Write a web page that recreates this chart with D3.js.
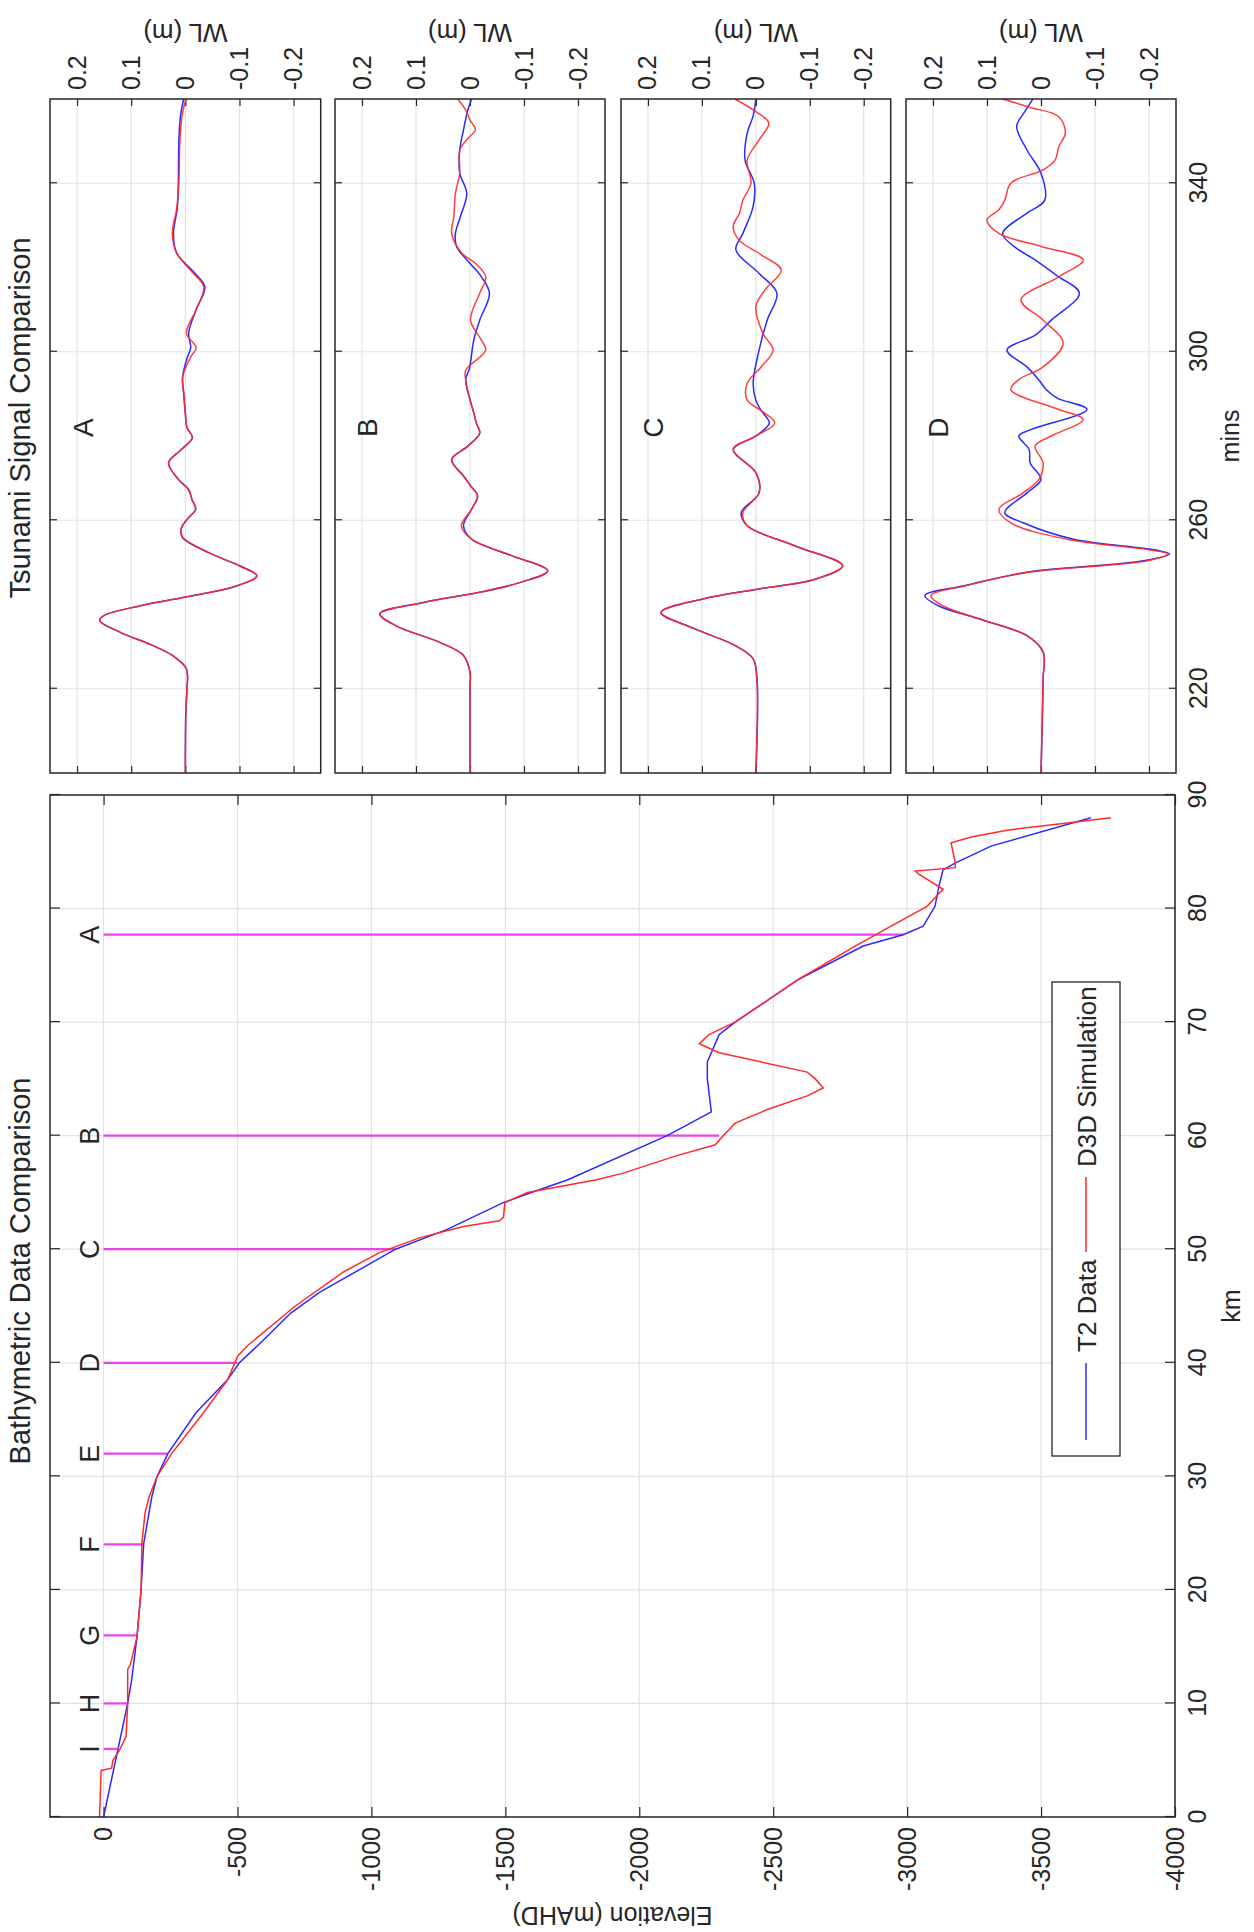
<!DOCTYPE html>
<html><head><meta charset="utf-8">
<script src="https://cdn.jsdelivr.net/npm/d3@7"></script>
<style>body{margin:0;background:#fff}</style>
</head><body>
<script>
// ---------------- DATA ----------------
const KM_TICKS = [0,10,20,30,40,50,60,70,80,90];
const ELEV_TICKS = [0,-500,-1000,-1500,-2000,-2500,-3000,-3500,-4000];
const MIN_TICKS = [220,260,300,340];
const WL_TICKS = [0.2,0.1,0,-0.1,-0.2];

const T2_KM   = [0,5,10,12.1,15.9,20,24.1,28.2,30,32,35.6,38.5,40,42,44.4,46.2,50,51.75,54.1,55,56.1,60,62.1,65,66.5,68.9,70,73.8,76.7,77.7,78.45,80.2,82,83.4,84,85.5,88];
const T2_ELEV = [0,-45,-90,-105,-125,-140,-150,-180,-200,-240,-345,-463,-507,-597,-700,-806,-1090,-1283,-1492,-1597,-1731,-2104,-2269,-2254,-2254,-2298,-2358,-2597,-2836,-2985,-3060,-3104,-3119,-3134,-3179,-3313,-3686];

const D3D_KM   = [0,4.1,4.3,5,5.9,7.1,10,13,13.4,15.9,20,24.1,26.8,28.2,30,32,35.6,38.5,40.6,41.5,45,48,49.7,51,52,52.5,52.8,54.1,55,56.1,56.7,58.2,59.2,60,61.1,62.3,63.5,64.2,65,65.6,67.3,68.1,68.9,70,73.8,76.7,78.45,80.2,81.7,83,83.3,83.6,84,85.8,86.3,86.9,87.5,88];
const D3D_ELEV = [15,9,-30,-35,-60,-84,-90,-90,-100,-125,-140,-143,-155,-170,-200,-254,-373,-463,-501,-537,-716,-896,-1030,-1179,-1343,-1478,-1493,-1498,-1582,-1836,-1940,-2134,-2284,-2313,-2358,-2478,-2627,-2687,-2657,-2627,-2298,-2224,-2260,-2358,-2597,-2806,-2940,-3074,-3134,-3045,-3030,-3179,-3180,-3164,-3239,-3373,-3582,-3761];

const SITE_LABELS = ['I','H','G','F','E','D','C','B','A'];
const SITE_KM     = [6,10,16,24,32,40,50,60,77.7];
const SITE_DEPTH  = [-50,-90,-128,-150,-240,-500,-1090,-2298,-2985];

const PANEL_NAMES = ['A','B','C','D'];

const A_T2_T   = [200,215,220,224.7,227.9,230.3,233.4,236.2,237.4,239.7,242.1,244.1,246.8,249.2,252.3,255.9,257.9,260.5,262.6,265,267.3,269.7,273.6,276.5,279.6,282,285.5,290,294,298.8,301,304.4,310,315.4,319,323.4,328,334,340,350,356,360];
const A_T2_WL  = [0,-0.001,-0.003,-0.002,0.024,0.061,0.12,0.158,0.15,0.083,-0.013,-0.087,-0.132,-0.10,-0.043,0.005,0.008,-0.005,-0.019,-0.012,-0.006,0.013,0.031,0.01,-0.013,-0.003,0,0.003,0.005,-0.004,-0.01,-0.006,-0.02,-0.036,-0.015,0.016,0.022,0.015,0.013,0.012,0.009,0.003];
const A_D3D_T  = [200,215,220,224.7,227.9,230.3,233.4,236.2,237.4,239.7,242.1,244.1,246.8,249.2,252.3,255.9,257.9,260.5,262.6,265,267.3,269.7,273.6,276.5,279.6,282,285.5,290,294,298.8,301,304.4,310,315.4,319,323.4,328,334,340,350,356,360];
const A_D3D_WL = [0,-0.001,-0.003,-0.002,0.024,0.061,0.12,0.158,0.15,0.083,-0.013,-0.087,-0.132,-0.10,-0.043,0.005,0.008,-0.005,-0.019,-0.012,-0.006,0.013,0.031,0.01,-0.013,-0.003,0,0.003,0.005,-0.01,-0.02,-0.002,-0.02,-0.034,-0.012,0.016,0.024,0.016,0.012,0.01,0.006,-0.001];

const B_T2_T   = [200,220,223.9,227.9,231,235,237.8,240.5,242.9,245.2,248,251.6,255.5,258.7,262.6,265.8,268,270.5,274.4,277.6,280.7,283,285.5,288.6,293.4,296,302.8,307.5,313.9,318,321,325,328.1,332,337.6,342.4,347.9,352.7,357.4,360];
const B_T2_WL  = [0,0,0,0.012,0.056,0.138,0.167,0.086,-0.018,-0.092,-0.144,-0.077,-0.003,0.012,-0.003,-0.014,-0.002,0.012,0.034,0.004,-0.018,-0.012,-0.007,0,0.008,0.001,-0.007,-0.018,-0.036,-0.02,0,0.025,0.027,0.018,0.006,0.019,0.019,0.012,0.004,-0.003];
const B_D3D_T  = [200,220,223.9,227.9,231,235,237.8,240.5,242.9,245.2,248,251.6,255.5,258.7,262.6,265.8,268,270.5,274.4,277.6,280.7,283,285.5,288.6,293.4,295.6,300.4,303,307.5,313.9,317.8,321,323.4,328.1,332,337.6,342.4,347.9,350.5,352.7,355,357.4,360];
const B_D3D_WL = [0,0,0,0.012,0.056,0.138,0.167,0.086,-0.018,-0.092,-0.144,-0.077,-0.003,0.016,-0.003,-0.014,-0.002,0.012,0.034,0.004,-0.018,-0.012,-0.007,0,0.008,0.008,-0.029,-0.02,-0.001,-0.018,-0.029,-0.01,0.015,0.034,0.03,0.027,0.019,0.019,0.005,-0.01,0,0.008,0.023];

const C_T2_T   = [200,222.4,227.1,230.3,234.2,238.1,241.3,243.7,246,249.2,253.9,258.7,261.8,266.5,271.3,276.8,280,283.1,286,288.5,292.5,300.4,307.5,313.9,318.6,324.2,328.1,334.5,340,345.5,351.9,356,360];
const C_T2_WL  = [0,-0.002,0.005,0.039,0.113,0.176,0.098,-0.006,-0.11,-0.161,-0.073,0.016,0.027,-0.006,0,0.042,0,-0.025,-0.01,0,0.005,-0.006,-0.021,-0.039,-0.006,0.037,0.024,0.005,0.003,0.02,0.016,0.005,0];
const C_D3D_T  = [200,222.4,227.1,230.3,234.2,238.1,241.3,243.7,246,249.2,253.9,258.7,261.8,266.5,271.3,276.8,280,283.1,286,288.5,292.5,296.4,300.4,304.4,310.7,314.7,319.4,323,326.5,329.7,333,336,340,345.5,350.3,354.3,357,360];
const C_D3D_WL = [0,-0.002,0.005,0.039,0.113,0.176,0.098,-0.006,-0.11,-0.161,-0.073,0.016,0.024,-0.006,0,0.042,0,-0.035,-0.01,0.016,0.016,-0.01,-0.032,-0.013,0,-0.017,-0.047,-0.01,0.031,0.042,0.03,0.024,0.009,0.016,-0.006,-0.024,0,0.039];

const D_T2_T   = [200,222.4,228.7,232.6,236.6,239.7,242.1,244.5,247.6,250.4,252,253,255.5,259.4,261.8,266.5,269.7,273.6,276.8,280,281.5,286.3,289,291,293.3,296.4,300.4,304,307.5,313.9,318,321.8,325,328.1,332.9,336,342.4,347.9,353.5,357,360];
const D_T2_WL  = [0,-0.004,-0.004,0.026,0.115,0.19,0.215,0.14,0.03,-0.19,-0.238,-0.21,-0.06,0.033,0.067,0.026,0,0.02,0.022,0.041,0.019,-0.085,-0.03,-0.01,0.004,0.026,0.063,0.01,-0.019,-0.071,-0.03,0.011,0.05,0.071,0.026,-0.007,0,0.026,0.045,0.03,0.015];
const D_D3D_T  = [200,222.4,228.7,232.6,236.6,239.7,242.1,244.5,247.6,250.4,252,253,255.5,259.4,262.6,266.5,269.7,273.6,277.6,280,283.9,286.3,291,293.4,296.4,302,307.5,312.3,317.8,321.8,325,328.1,331.3,333.7,336,340,343.2,345.5,348.7,351.9,355.8,358,360];
const D_D3D_WL = [0,-0.004,-0.004,0.026,0.115,0.182,0.204,0.138,0.026,-0.197,-0.234,-0.2,-0.048,0.056,0.078,0.033,0.004,-0.004,0.011,-0.019,-0.078,-0.033,0.056,0.041,-0.004,-0.041,-0.004,0.037,-0.033,-0.078,0,0.078,0.1,0.078,0.067,0.056,-0.004,-0.026,-0.033,-0.045,-0.033,0.02,0.071];

const PANEL_DATA = [
  {t2t:A_T2_T, t2w:A_T2_WL, dt:A_D3D_T, dw:A_D3D_WL},
  {t2t:B_T2_T, t2w:B_T2_WL, dt:B_D3D_T, dw:B_D3D_WL},
  {t2t:C_T2_T, t2w:C_T2_WL, dt:C_D3D_T, dw:C_D3D_WL},
  {t2t:D_T2_T, t2w:D_T2_WL, dt:D_D3D_T, dw:D_D3D_WL}
];

// ---------------- DRAWING ----------------
const FONT = '"Liberation Sans", Arial, Helvetica, sans-serif';
const AX = '#262626', GRID = '#e3e3e3', BLUE = '#2a2aff', RED = '#ff2a2a', MAG = '#f040f0';
const FS = 25;

const svg = d3.select('body').append('svg').attr('width',1254).attr('height',1932);
svg.append('rect').attr('width',1254).attr('height',1932).attr('fill','#fff');
// figure drawn in landscape (1932 x 1254) and rotated counter-clockwise
const g = svg.append('g').attr('transform','translate(0,1932) rotate(-90)');

function styleAxis(sel){
  sel.attr('font-family',FONT).attr('font-size',FS);
  sel.select('.domain').remove();
  sel.selectAll('.tick line').attr('stroke',AX).attr('stroke-width',1.2);
  sel.selectAll('.tick text').attr('fill',AX);
}
const noLab = () => '';

// ---- Left panel: bathymetry ----
const L = {x0:115, x1:1137, y0:50, y1:1175};
const xK = d3.scaleLinear().domain([0,90]).range([L.x0,L.x1]);
const yE = d3.scaleLinear().domain([200,-4000]).range([L.y0,L.y1]);
const lp = g.append('g');
lp.selectAll('line.gv').data(KM_TICKS).join('line').attr('class','gv')
  .attr('x1',d=>xK(d)).attr('x2',d=>xK(d)).attr('y1',L.y0).attr('y2',L.y1).attr('stroke',GRID).attr('stroke-width',1.2);
lp.selectAll('line.gh').data(ELEV_TICKS).join('line').attr('class','gh')
  .attr('x1',L.x0).attr('x2',L.x1).attr('y1',d=>yE(d)).attr('y2',d=>yE(d)).attr('stroke',GRID).attr('stroke-width',1.2);

lp.append('g').attr('transform',`translate(0,${L.y1})`)
  .call(d3.axisBottom(xK).tickValues(KM_TICKS).tickFormat(d=>String(d)).tickSizeInner(-10).tickSizeOuter(0).tickPadding(13)).call(styleAxis);
lp.append('g').attr('transform',`translate(0,${L.y0})`)
  .call(d3.axisTop(xK).tickValues(KM_TICKS).tickFormat(noLab).tickSizeInner(-10).tickSizeOuter(0)).call(styleAxis);
lp.append('g').attr('transform',`translate(${L.x0},0)`)
  .call(d3.axisLeft(yE).tickValues(ELEV_TICKS).tickFormat(d=>String(d)).tickSizeInner(-10).tickSizeOuter(0).tickPadding(10)).call(styleAxis);
lp.append('g').attr('transform',`translate(${L.x1},0)`)
  .call(d3.axisRight(yE).tickValues(ELEV_TICKS).tickFormat(noLab).tickSizeInner(-10).tickSizeOuter(0)).call(styleAxis);

// site markers
const sites = SITE_LABELS.map((s,i)=>({s, km:SITE_KM[i], dep:SITE_DEPTH[i]}));
lp.selectAll('line.site').data(sites).join('line').attr('class','site')
  .attr('x1',d=>xK(d.km)).attr('x2',d=>xK(d.km)).attr('y1',yE(0)).attr('y2',d=>yE(d.dep))
  .attr('stroke',MAG).attr('stroke-width',2.2);
lp.selectAll('text.site').data(sites).join('text').attr('class','site')
  .attr('x',d=>xK(d.km)).attr('y',yE(0)-5).attr('text-anchor','middle')
  .attr('font-family',FONT).attr('font-size',27).attr('fill',AX).text(d=>d.s);

const bLine = d3.line().x(d=>xK(d[0])).y(d=>yE(d[1]));
lp.append('path').datum(d3.zip(T2_KM,T2_ELEV)).attr('d',bLine).attr('fill','none').attr('stroke',BLUE).attr('stroke-width',1.5);
lp.append('path').datum(d3.zip(D3D_KM,D3D_ELEV)).attr('d',bLine).attr('fill','none').attr('stroke',RED).attr('stroke-width',1.5);

lp.append('rect').attr('x',L.x0).attr('y',L.y0).attr('width',L.x1-L.x0).attr('height',L.y1-L.y0)
  .attr('fill','none').attr('stroke',AX).attr('stroke-width',1.5);

// legend
const lg = lp.append('g');
lg.append('rect').attr('x',476).attr('y',1052).attr('width',474).attr('height',68).attr('fill','#fff').attr('stroke',AX).attr('stroke-width',1.3);
lg.append('line').attr('x1',492).attr('x2',569).attr('y1',1086).attr('y2',1086).attr('stroke',BLUE).attr('stroke-width',1.5);
lg.append('text').attr('x',580).attr('y',1096).attr('font-family',FONT).attr('font-size',26).attr('fill',AX).text('T2 Data');
lg.append('line').attr('x1',680).attr('x2',755).attr('y1',1086).attr('y2',1086).attr('stroke',RED).attr('stroke-width',1.5);
lg.append('text').attr('x',765).attr('y',1096).attr('font-family',FONT).attr('font-size',26).attr('fill',AX).text('D3D Simulation');

// titles & labels
lp.append('text').attr('x',(L.x0+L.x1)/2+35).attr('y',30).attr('text-anchor','middle').attr('font-family',FONT).attr('font-size',29).attr('fill',AX).text('Bathymetric Data Comparison');
lp.append('text').attr('x',(L.x0+L.x1)/2).attr('y',1240).attr('text-anchor','middle').attr('font-family',FONT).attr('font-size',FS).attr('fill',AX).text('km');
lp.append('text').attr('transform',`translate(25,${(L.y0+L.y1)/2}) rotate(-90)`).attr('text-anchor','middle').attr('font-family',FONT).attr('font-size',FS).attr('fill',AX).text('Elevation (mAHD)');

// ---- Right panels: tsunami signals ----
const R = {x0:1159, x1:1833};
const PANEL_TOP = [50,335,621,906];
const PANEL_BOT = [320.7,605,890.7,1176];
const xT = d3.scaleLinear().domain([200,360]).range([R.x0,R.x1]);
const tLineGen = y => d3.line().curve(d3.curveCatmullRom.alpha(0.5)).x(d=>xT(d[0])).y(d=>y(d[1]));

PANEL_NAMES.forEach((name,i)=>{
  const top = PANEL_TOP[i], bot = PANEL_BOT[i];
  const yW = d3.scaleLinear().domain([0.25,-0.25]).range([top,bot]);
  const p = g.append('g');
  p.selectAll('line.gv').data(MIN_TICKS).join('line').attr('class','gv')
    .attr('x1',d=>xT(d)).attr('x2',d=>xT(d)).attr('y1',top).attr('y2',bot).attr('stroke',GRID).attr('stroke-width',1.2);
  p.selectAll('line.gh').data(WL_TICKS).join('line').attr('class','gh')
    .attr('x1',R.x0).attr('x2',R.x1).attr('y1',d=>yW(d)).attr('y2',d=>yW(d)).attr('stroke',GRID).attr('stroke-width',1.2);

  p.append('g').attr('transform',`translate(0,${bot})`)
    .call(d3.axisBottom(xT).tickValues(MIN_TICKS).tickFormat(i===3 ? (d=>String(d)) : noLab).tickSizeInner(-7).tickSizeOuter(0).tickPadding(13)).call(styleAxis);
  p.append('g').attr('transform',`translate(0,${top})`)
    .call(d3.axisTop(xT).tickValues(MIN_TICKS).tickFormat(noLab).tickSizeInner(-7).tickSizeOuter(0)).call(styleAxis);
  p.append('g').attr('transform',`translate(${R.x0},0)`)
    .call(d3.axisLeft(yW).tickValues(WL_TICKS).tickFormat(noLab).tickSizeInner(-7).tickSizeOuter(0)).call(styleAxis);
  p.append('g').attr('transform',`translate(${R.x1},0)`)
    .call(d3.axisRight(yW).tickValues(WL_TICKS).tickFormat(d=>String(d)).tickSizeInner(-7).tickSizeOuter(0).tickPadding(9)).call(styleAxis);

  const pd = PANEL_DATA[i];
  const ln = tLineGen(yW);
  p.append('path').datum(d3.zip(pd.t2t,pd.t2w)).attr('d',ln).attr('fill','none').attr('stroke',BLUE).attr('stroke-width',1.5);
  p.append('path').datum(d3.zip(pd.dt,pd.dw)).attr('d',ln).attr('fill','none').attr('stroke',RED).attr('stroke-width',1.5).attr('stroke-opacity',0.9);

  p.append('text').attr('x',xT(282)).attr('y',yW(0.19)).attr('dy','0.36em').attr('text-anchor','middle')
    .attr('font-family',FONT).attr('font-size',28).attr('fill',AX).text(name);

  p.append('rect').attr('x',R.x0).attr('y',top).attr('width',R.x1-R.x0).attr('height',bot-top)
    .attr('fill','none').attr('stroke',AX).attr('stroke-width',1.5);

  p.append('text').attr('transform',`translate(1908,${(top+bot)/2}) rotate(-90)`).attr('text-anchor','middle')
    .attr('font-family',FONT).attr('font-size',26).attr('fill',AX).text('WL (m)');
});

g.append('text').attr('x',(R.x0+R.x1)/2+18).attr('y',30).attr('text-anchor','middle').attr('font-family',FONT).attr('font-size',29).attr('fill',AX).text('Tsunami Signal Comparison');
g.append('text').attr('x',(R.x0+R.x1)/2).attr('y',1239).attr('text-anchor','middle').attr('font-family',FONT).attr('font-size',FS).attr('fill',AX).text('mins');
</script>
</body></html>
